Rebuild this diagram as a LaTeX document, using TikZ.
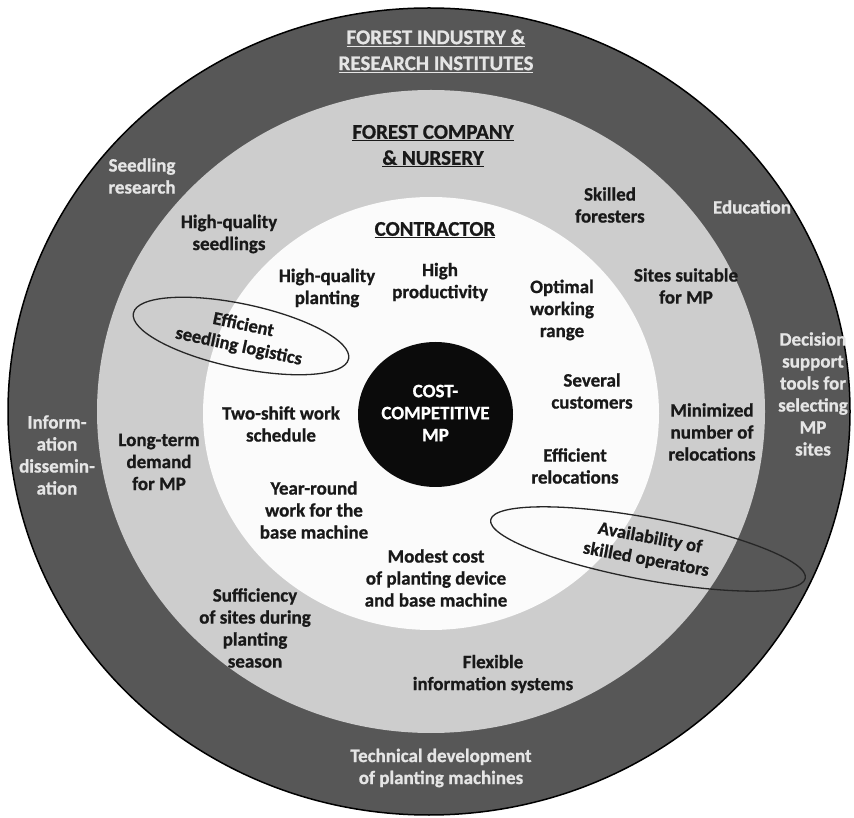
\documentclass[tikz,border=0pt]{standalone}
\usepackage{fontspec}
\setmainfont{Carlito}[BoldFeatures={FakeBold=0.8}]
\usetikzlibrary{shapes.geometric}

\definecolor{ring_dark}{HTML}{575757}
\definecolor{ring_light}{HTML}{CDCDCD}
\definecolor{ring_white}{HTML}{FBFBFB}
\definecolor{core_black}{HTML}{0B0B0B}

\tikzstyle{outer_text} = [align=center, text=white!90!black, font=\bfseries\fontsize{19}{22}\selectfont]
\tikzstyle{inner_text} = [align=center, text=black!90, font=\bfseries\fontsize{19}{22}\selectfont]
\tikzstyle{title_text} = [align=center, font=\bfseries\fontsize{21}{26}\selectfont]
\tikzstyle{oval} = [ellipse, draw=black!85, line width=1.3pt, inner sep=0pt, align=center, text=black!90, font=\bfseries\fontsize{18.5}{22}\selectfont]

\begin{document}
\begin{tikzpicture}[x=1pt, y=1pt]

\useasboundingbox (0,0) rectangle (854,817);

% rings
\fill[ring_dark, draw=black, line width=1.5pt] (429,405.5) ellipse [x radius=421, y radius=403.5];
\fill[ring_light] (431,405.5) ellipse [x radius=334, y radius=321.5];
\fill[ring_white] (431,403.5) ellipse [x radius=228, y radius=216.5];
\fill[core_black] (435.5,402.5) ellipse [x radius=77.5, y radius=72.5];

% outer ring
\node[outer_text, title_text] (industry) at (436,766) {\underline{FOREST INDUSTRY \&}\\\underline{RESEARCH INSTITUTES}};
\node[outer_text] (seed_res) at (142,641) {Seedling\\research};
\node[outer_text] (education) at (752,610) {Education};
\node[outer_text] (decision) at (813,423) {Decision\\support\\tools for\\selecting\\MP\\sites};
\node[outer_text] (info_diss) at (57,362) {Inform-\\ation\\dissemin-\\ation};
\node[outer_text] (tech_dev) at (441,49) {Technical development\\of planting machines};

% middle ring
\node[inner_text, title_text] (company) at (433,671) {\underline{FOREST COMPANY}\\\underline{\& NURSERY}};
\node[inner_text] (hq_seed) at (229,583) {High-quality\\seedlings};
\node[inner_text] (skilled_for) at (610,612) {Skilled\\foresters};
\node[inner_text] (sites_mp) at (686,531) {Sites suitable\\for MP};
\node[inner_text] (min_reloc) at (712,385) {Minimized\\number of\\relocations};
\node[inner_text] (long_term) at (159,355) {Long-term\\demand\\for MP};
\node[inner_text] (sufficiency) at (255,189) {Sufficiency\\of sites during\\planting\\season};
\node[inner_text] (flex_info) at (493,143) {Flexible\\information systems};

% inner ring
\node[inner_text, title_text] (contractor) at (435,587) {\underline{CONTRACTOR}};
\node[inner_text] (hq_plant) at (327,529) {High-quality\\planting};
\node[inner_text] (high_prod) at (440,535) {High\\productivity};
\node[inner_text] (opt_range) at (562,507) {Optimal\\working\\range};
\node[inner_text] (several) at (592,426) {Several\\customers};
\node[inner_text] (eff_reloc) at (575,351) {Efficient\\relocations};
\node[inner_text] (two_shift) at (281,393) {Two-shift work\\schedule};
\node[inner_text] (year_round) at (314,307) {Year-round\\work for the\\base machine};
\node[inner_text] (modest) at (436,239) {Modest cost\\of planting device\\and base machine};

% core
\node[outer_text, text=white] (core) at (435.5,404) {COST-\\COMPETITIVE\\MP};

% ovals
\node[oval, rotate=-12, minimum width=220, minimum height=64] (seed_log) at (241,481) {Efficient\\seedling logistics};
\node[oval, rotate=-10.5, minimum width=320, minimum height=62] (operators) at (648,268) {Availability of\\skilled operators};

\end{tikzpicture}
\end{document}
